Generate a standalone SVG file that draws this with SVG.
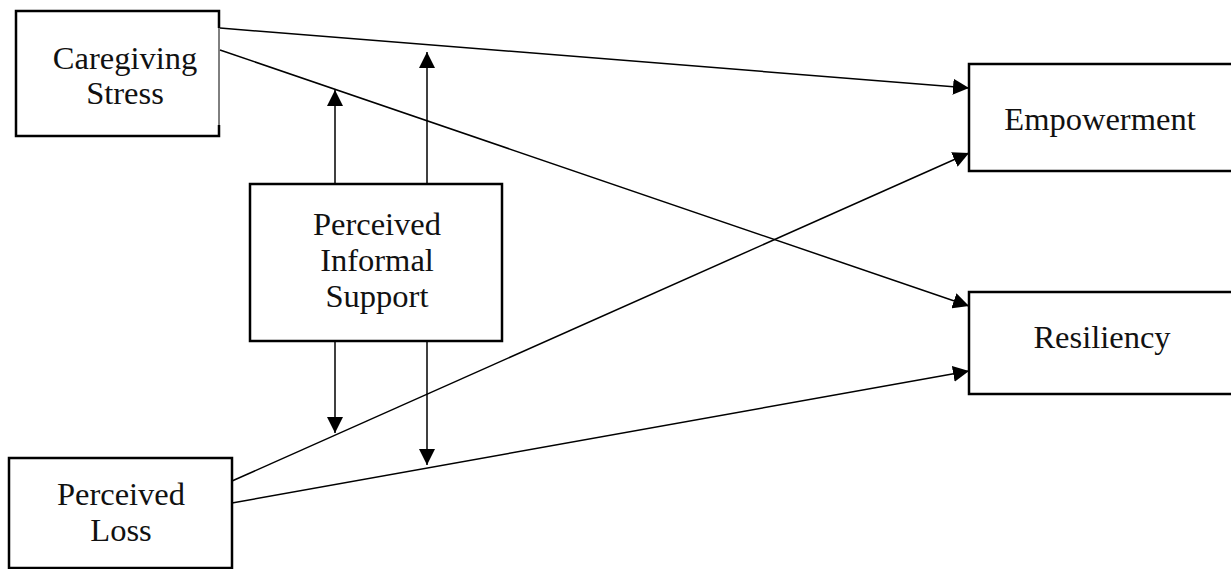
<svg xmlns="http://www.w3.org/2000/svg" width="1231" height="569" viewBox="0 0 1231 569">
<style>
.box{fill:#fff;stroke:#000;stroke-width:2.5}
.lbl{font-family:"Liberation Serif","Times New Roman",serif;font-size:32.5px;fill:#111;text-anchor:middle}
.ln{stroke:#000;stroke-width:1.5;fill:none;marker-end:url(#ah)}
</style>
<defs>
<marker id="ah" markerUnits="userSpaceOnUse" markerWidth="16" markerHeight="16" viewBox="0 0 16 16" refX="16" refY="8" orient="auto">
<path d="M0,0 L16,8 L0,16 Z" fill="#000"/>
</marker>
</defs>
<rect width="1231" height="569" fill="#fff"/>
<g id="node-caregiving">
<path d="M219,28 V11 H16 V136 H219 V125" fill="#fff" stroke="#000" stroke-width="2.5"/>
<line x1="219" y1="28" x2="219" y2="125" stroke="#000" stroke-width="1"/>
<text class="lbl" x="125" y="69">Caregiving</text>
<text class="lbl" x="125" y="104">Stress</text>
</g>
<g id="node-support">
<rect class="box" x="250" y="184" width="252" height="157"/>
<text class="lbl" x="377" y="235">Perceived</text>
<text class="lbl" x="377" y="271">Informal</text>
<text class="lbl" x="377" y="307">Support</text>
</g>
<g id="node-loss">
<rect class="box" x="9" y="458" width="223" height="110"/>
<text class="lbl" x="121" y="505">Perceived</text>
<text class="lbl" x="121" y="541">Loss</text>
</g>
<g id="node-empowerment">
<rect class="box" x="969" y="64" width="270" height="107"/>
<text class="lbl" x="1100" y="130">Empowerment</text>
</g>
<g id="node-resiliency">
<rect class="box" x="969" y="292" width="270" height="102"/>
<text class="lbl" x="1102" y="348">Resiliency</text>
</g>
<g id="connectors">
<line class="ln" x1="220" y1="28" x2="969" y2="88"/>
<line class="ln" x1="220" y1="50" x2="969" y2="306"/>
<line class="ln" x1="232" y1="481" x2="969" y2="153"/>
<line class="ln" x1="232" y1="503" x2="969" y2="371"/>
<line class="ln" x1="335" y1="184" x2="335" y2="90"/>
<line class="ln" x1="427" y1="184" x2="427" y2="52"/>
<line class="ln" x1="335" y1="341" x2="335" y2="433"/>
<line class="ln" x1="427" y1="341" x2="427" y2="465"/>
</g>
</svg>
